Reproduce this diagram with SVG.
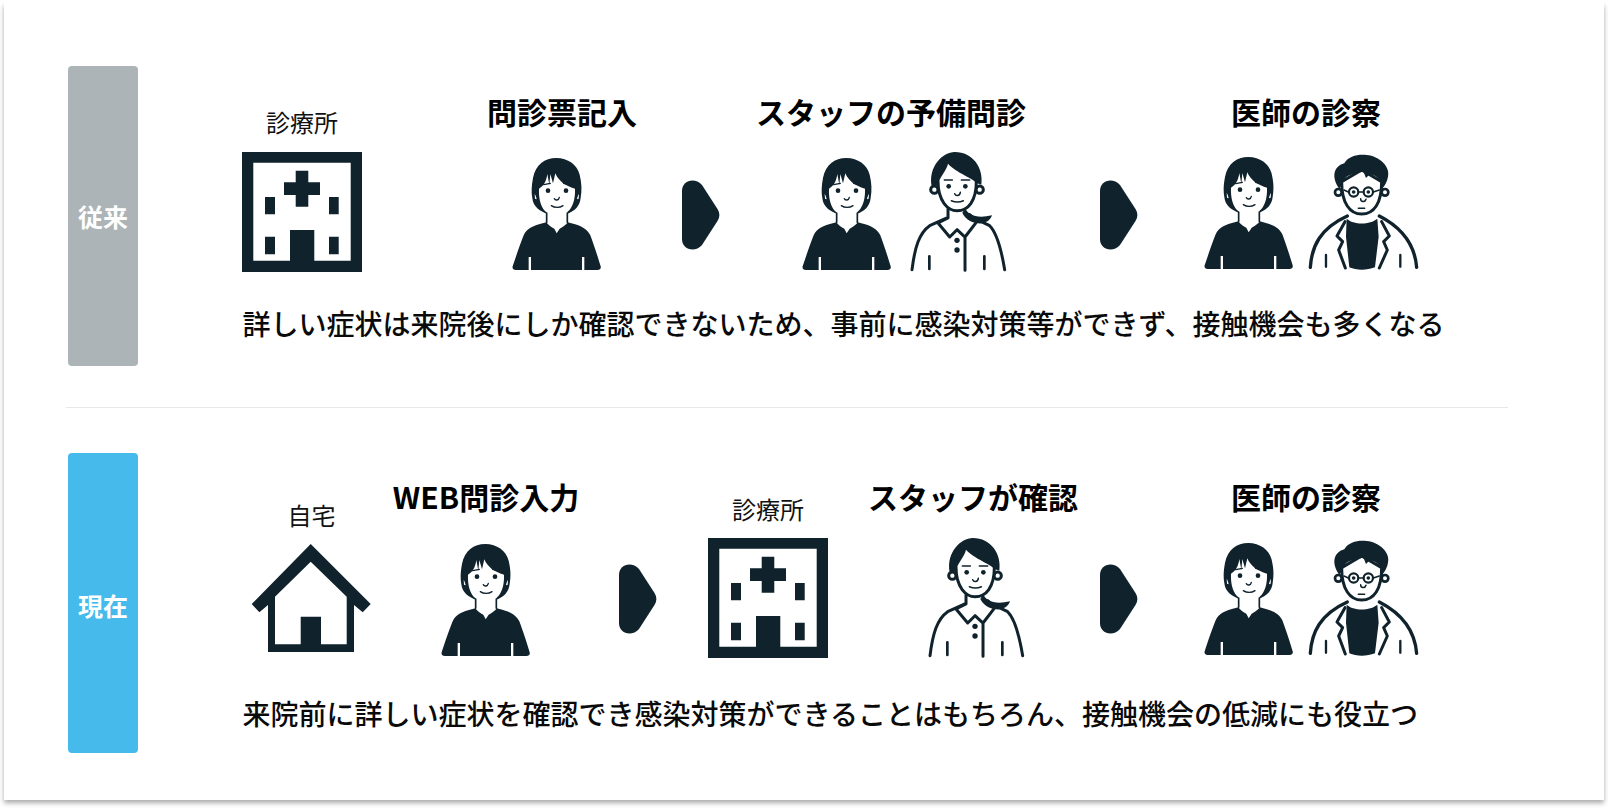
<svg xmlns="http://www.w3.org/2000/svg" width="1608" height="808" viewBox="0 0 1608 808">
<style>
text{font-family:"Noto Sans CJK JP","Noto Sans",sans-serif;fill:#000;text-anchor:middle}
.t{font-size:30px;font-weight:700}
.s{font-size:24px;font-weight:400;fill:#111}
.b{font-size:28px;font-weight:500;text-anchor:start;fill:#0a0a0a}
.l{font-size:25px;font-weight:700;fill:#fff}
.d{fill:#10222c}
.o{fill:none;stroke:#10222c;stroke-linecap:round;stroke-linejoin:round}
.w{fill:#fff}
</style>
<defs>
<filter id="sh" x="-2%" y="-2%" width="104%" height="106%"><feGaussianBlur stdDeviation="2.5"/></filter>
<g id="clinic">
<path class="d" fill-rule="evenodd" d="M0 0H120V120H0ZM11.300 10.700V108.700H48V78H72.300V108.700H108.700V10.700Z"/>
<path class="d" d="M53.700 18.700H66.300V30.300H78V43H66.300V54.700H53.700V43H42V30.300H53.700Z"/>
<path class="d" d="M23 45h10v17.300h-10zM87 45h9.700v17.300h-9.700zM23 84.700h10v17.600h-10zM87 84.700h9.700v17.600h-9.700z"/>
</g>
<g id="person" transform="scale(.3333)">
<path class="d" d="M130 0C95 0 68 20 60 60C55 85 55 105 58 120C60 145 80 160 105 168H160C185 160 200 145 203 120C207 95 206 75 200 50C192 20 165 0 130 0Z"/>
<path class="w" d="M78 92C92 84 100 70 103 48L109 80L112 48L120 76L127 46C136 68 156 84 186 92C188 145 165 173 131 173C97 173 76 145 78 92Z"/>
<path class="w" d="M101 158H163V192L178 200L130 225L86 200L101 192Z"/>
<path class="o" stroke-width="5" d="M101 165V193M163 165V193"/>
<path class="d" d="M92 195C60 203 42 210 32 232C20 262 8 298 -1 325C-3 332 2 336 8 336H254C260 336 265 332 263 325C255 298 243 262 232 232C222 212 205 203 172 195L165 193C158 202 148 208 140 212L131 226L124 212C115 208 106 202 100 193Z"/>
<path class="w" d="M47 297H54V336H47ZM207 297H214V336H207Z"/>
<circle class="d" cx="105" cy="98" r="7"/><circle class="d" cx="159" cy="98" r="7"/>
<path class="o" stroke-width="4" d="M92 80L112 76M152 76L172 80M124 122C127 128 137 128 139 118M115 143C125 150 140 150 150 143"/>
<path class="w" d="M65 108C68 112 70 118 71 124L66 122ZM198 108C195 112 193 118 192 124L197 122Z"/>
</g>
<g id="staff" transform="translate(-132.300,-12.300) scale(.3333)">
<path class="d" d="M556 205C565 225 590 238 637 227C632 245 610 255 590 250C570 247 555 235 548 220Z"/>
<circle class="w" cx="464" cy="150" r="11" stroke="#10222c" stroke-width="9"/>
<circle class="w" cx="600" cy="150" r="11" stroke="#10222c" stroke-width="9"/>
<path class="w" d="M475 115C475 185 505 213 532 213C565 213 590 185 590 115L530 65Z"/>
<path class="o" stroke-width="9" d="M475 125C475 185 505 213 532 213C565 213 590 185 590 125"/>
<path class="d" d="M456 140C445 80 490 37 525 37C580 37 612 85 605 135L590 130C580 115 530 100 505 72C500 95 480 110 475 135Z"/>
<circle class="d" cx="507" cy="140" r="7"/><circle class="d" cx="557" cy="140" r="7"/>
<path class="o" stroke-width="4.500" d="M494 121L518 121M545 121L570 121M525 162C528 170 540 170 542 158M515 183C527 188 540 188 551 183"/>
<path class="o" stroke-width="9" d="M505 208V235L475 250L510 292L532 270L556 292L592 245L570 225M397 390C405 325 418 280 450 258L505 233M592 240L630 258C652 280 665 330 675 390M556 292V392"/>
<path class="o" stroke-width="8" d="M449 350V388M614 350V388"/>
<circle class="d" cx="532" cy="302" r="8"/><circle class="d" cx="532" cy="331" r="8"/>
</g>
<g id="doctor" transform="translate(-120,-15) scale(.3333)">
<circle class="w" cx="445" cy="157" r="10" stroke="#10222c" stroke-width="8"/>
<circle class="w" cx="585" cy="157" r="10" stroke="#10222c" stroke-width="8"/>
<path class="w" stroke="#10222c" stroke-width="9" d="M455 125C455 190 480 222 515 222C552 222 575 190 575 125L515 90Z"/>
<path class="d" d="M448 146C425 115 428 80 463 70C475 48 505 42 530 45C568 48 602 80 594 110C592 125 584 138 576 146C575 122 565 108 540 102L528 114L520 94C500 102 472 102 464 117C460 127 455 137 448 146Z"/>
<circle cx="491" cy="156" r="14" fill="#fff" stroke="#10222c" stroke-width="6.500"/>
<circle cx="535" cy="156" r="14" fill="#fff" stroke="#10222c" stroke-width="6.500"/>
<circle class="d" cx="491" cy="156" r="5.500"/><circle class="d" cx="535" cy="156" r="5.500"/>
<path class="o" stroke-width="4.500" d="M505 156H521M512 176C512 186 525 188 528 178M505 205H524M475 156L462 150M550 156L568 150"/>
<path class="d" d="M470 236C490 255 540 255 562 236L566 290L555 382C530 392 500 392 478 382L468 290Z"/>
<path class="o" stroke-width="10" d="M361 382C365 320 390 265 472 228M568 228C640 265 675 320 680 382"/>
<path class="o" stroke-width="9" d="M465 245L441 288L458 305L446 330L466 384M575 245L598 288L581 305L592 330L568 384"/>
<path class="o" stroke-width="7" d="M408 345V380M631 345V380"/>
</g>
<path id="house" class="d" fill-rule="evenodd" d="M59 0L119 60L111 68.300L102.300 61V108H16.300V61L7.700 68.300L0 60ZM59 17.700L23.300 52.700V100.300H49V72.700H69.300V100.300H95V52.700Z"/>
<path id="arrow" class="d" d="M0 11C0 0 13 -3 20 5L35.500 29C38 33 38 37 35.500 41L20 65C13 73 0 70 0 59Z"/>
</defs>
<rect width="1608" height="808" fill="#fff"/>
<rect x="4" y="6" width="1600" height="797" fill="#555" opacity=".5" filter="url(#sh)"/>
<rect x="4" y="0" width="1600" height="800" fill="#fff"/>
<rect x="66" y="407" width="1442" height="1" fill="#e8e8e8"/>

<g id="label-old"><rect x="68" y="66" width="70" height="300" rx="4" fill="#acb4b7"/><text class="l" x="103" y="227">従来</text></g>
<g id="label-new"><rect x="68" y="453" width="70" height="300" rx="4" fill="#46baea"/><text class="l" x="103" y="616">現在</text></g>

<g id="clinic-1"><text class="s" x="302" y="132">診療所</text><use href="#clinic" x="242" y="152"/></g>
<g id="step-1"><text class="t" x="562" y="124">問診票記入</text><use href="#person" transform="translate(513,158)"/></g>
<g id="step-2"><text class="t" x="891" y="124">スタッフの予備問診</text><use href="#person" transform="translate(803,158)"/><use href="#staff" transform="translate(912,152)"/></g>
<g id="step-3"><text class="t" x="1306" y="124">医師の診察</text><use href="#person" transform="translate(1205,157)"/><use href="#doctor" transform="translate(1310,155)"/></g>
<text class="b" x="242.500" y="335">詳しい症状は来院後にしか確認できないため、事前に感染対策等ができず、接触機会も多くなる</text>

<g id="home"><text class="s" x="311.500" y="525">自宅</text><use href="#house" x="251.700" y="544"/></g>
<g id="step-4"><text class="t" x="486" y="509">WEB問診入力</text><use href="#person" transform="translate(442,544)"/></g>
<g id="clinic-2"><text class="s" x="768" y="519">診療所</text><use href="#clinic" x="708" y="538"/></g>
<g id="step-5"><text class="t" x="973" y="509">スタッフが確認</text><use href="#staff" transform="translate(930,538)"/></g>
<g id="step-6"><text class="t" x="1306" y="509">医師の診察</text><use href="#person" transform="translate(1205,543)"/><use href="#doctor" transform="translate(1310,541)"/></g>
<text class="b" x="242.500" y="725">来院前に詳しい症状を確認でき感染対策ができることはもちろん、接触機会の低減にも役立つ</text>

<g id="connectors">
<use href="#arrow" x="682" y="180"/>
<use href="#arrow" x="1100" y="180"/>
<use href="#arrow" x="619" y="564"/>
<use href="#arrow" x="1100" y="564"/>
</g>
</svg>
